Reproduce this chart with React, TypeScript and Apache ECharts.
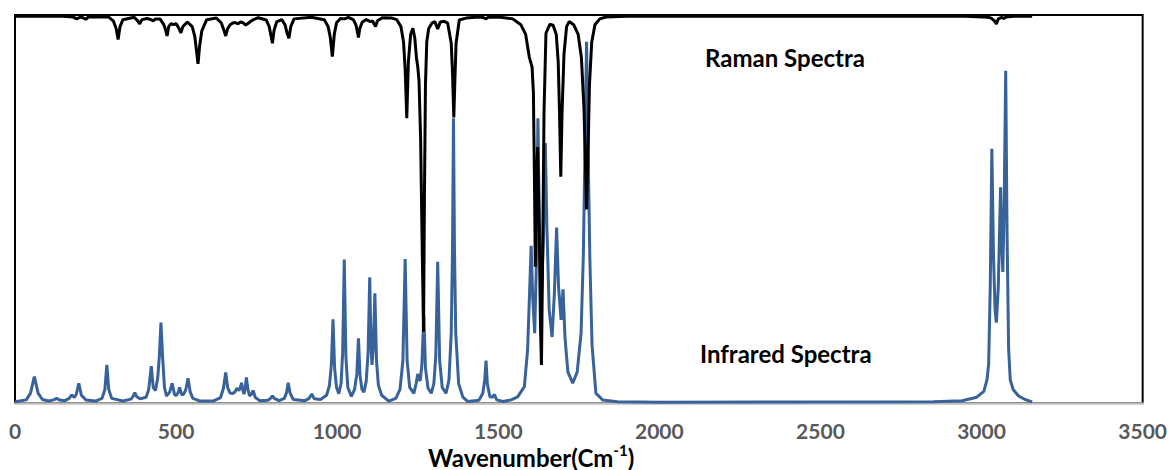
import React, { useEffect, useRef } from "react";
import * as echarts from "echarts";

// Infrared spectrum: [wavenumber, intensity %]
const irSpectrum: number[][] = [
  [0, 0.3], [35, 0.8], [48, 2.5], [55, 5], [60, 6.8], [65, 5], [72, 2.5], [85, 0.9], [105, 0.5],
  [120, 0.8], [129, 1.2], [138, 0.8], [155, 0.6], [168, 1.2], [176, 2.1], [184, 1.4], [190, 2.2], [198, 5.1], [206, 2], [220, 0.8], [250, 0.5],
  [270, 1.2], [279, 3.5], [285, 9.8], [291, 3.5], [300, 1.2], [335, 0.5], [360, 1], [367, 1.8], [372, 2.7], [378, 1.6], [388, 1.1], [398, 1.3],
  [407, 1.5], [415, 3.5], [423, 9.5], [429, 4], [436, 3.2], [443, 6.5], [448, 12], [453, 20.7], [458, 12], [464, 4], [470, 1.8],
  [480, 2.8], [488, 5.1], [495, 2.2], [500, 1.9], [506, 2.6], [511, 4], [517, 2.2], [523, 2.2], [530, 3.4], [537, 6.4], [544, 2.8], [552, 1.2],
  [575, 0.5], [615, 0.5], [638, 1.4], [647, 3.8], [654, 7.9], [660, 4], [667, 2.6], [674, 2.4], [682, 2.8], [689, 3.8], [695, 3.2], [699, 3.8],
  [703, 5.2], [708, 3], [711, 2.3], [714, 3.5], [718, 6.6], [723, 3.5], [728, 1.8], [733, 2.2], [739, 3.2], [746, 1.4], [760, 0.6],
  [785, 0.7], [793, 1.2], [799, 1.8], [806, 1.1], [820, 0.6], [836, 1.2], [843, 2.7], [848, 5.2], [854, 2.5], [864, 0.9], [900, 0.6],
  [913, 1.2], [921, 2.3], [929, 1.1], [948, 0.9], [967, 2], [976, 4.5], [982, 10], [987, 21.6], [992, 9], [998, 4], [1005, 2.4],
  [1012, 5], [1017, 13], [1022, 37], [1027, 12], [1033, 4], [1044, 1.7], [1054, 3.5], [1061, 7.5], [1066, 16.7], [1071, 7], [1077, 3.5],
  [1083, 2.8], [1090, 5.5], [1096, 13], [1101, 32.4], [1105, 15], [1108, 9.8], [1112, 14], [1117, 28.3], [1122, 11], [1128, 4.5],
  [1138, 2], [1160, 0.5], [1182, 1.2], [1195, 3.5], [1204, 11], [1211, 37.1], [1217, 11], [1225, 4], [1238, 2.5], [1245, 5], [1250, 7.5],
  [1255, 6], [1258, 5.8], [1263, 10], [1269, 22.7], [1274, 9], [1282, 3.8], [1292, 2.5], [1300, 5], [1306, 12], [1312, 36.4], [1318, 11],
  [1326, 4], [1338, 2.5], [1347, 6], [1354, 18], [1358, 40], [1361, 73.4], [1364, 40], [1368, 18], [1377, 5], [1390, 1.5], [1405, 0.4],
  [1440, 0.7], [1452, 2.5], [1458, 6], [1462, 10.9], [1466, 5], [1474, 1.6], [1482, 1.5], [1488, 2.2], [1495, 0.8], [1515, 0.4],
  [1540, 0.8], [1560, 1.6], [1581, 4.2], [1591, 13.7], [1597, 28], [1602, 40.5], [1607, 27], [1613, 18], [1618, 35], [1623, 73.4],
  [1628, 45], [1634, 28], [1640, 42], [1646, 67], [1651, 45], [1658, 24], [1667, 17], [1674, 28], [1681, 45.2], [1687, 30], [1695, 21.4],
  [1701, 29.3], [1707, 17], [1716, 8], [1731, 5.1], [1745, 8], [1757, 18], [1764, 38], [1769, 65], [1774, 93.1], [1779, 65], [1784, 38],
  [1791, 15], [1803, 2.5], [1824, 0.8], [1870, 0.3], [2000, 0.2], [2850, 0.3], [2940, 0.6], [2985, 1.5], [3007, 3], [3017, 6], [3022, 10], [3027, 30],
  [3032, 65.5], [3037, 38], [3042, 24], [3046, 20.7], [3052, 30], [3059, 55.6], [3063, 40], [3066, 33.8], [3070, 50], [3075, 85.6],
  [3079, 45], [3084, 14], [3089, 6], [3098, 3.5], [3115, 1.8], [3135, 0.9], [3157, 0.3],
];

// Raman spectrum (drawn hanging from the top): [wavenumber, intensity %]
const ramanSpectrum: number[][] = [
  [0, 0.3], [150, 0.3], [180, 0.5], [191, 1], [205, 0.5], [213, 0.8], [220, 1.1], [228, 0.5], [290, 0.5], [305, 1.5], [314, 3.5],
  [320, 6.3], [326, 3], [335, 1.2], [370, 0.6], [381, 1.5], [387, 2.3], [394, 1.2], [410, 0.9], [422, 1.2], [429, 1.5], [436, 1],
  [450, 1], [462, 2.5], [468, 4], [472, 5.4], [477, 3], [484, 2.2], [492, 2.5], [500, 2.2], [509, 3.5], [515, 4.6], [521, 3], [535, 1.8],
  [550, 3], [558, 5.5], [563, 9], [568, 12.6], [573, 8], [580, 4], [595, 1.2], [625, 0.8], [640, 2], [648, 3.8], [654, 5.4], [660, 3.5],
  [668, 2.5], [677, 2], [685, 2], [692, 2.3], [700, 1.8], [708, 2], [716, 2.6], [723, 2.2], [732, 1.6], [740, 1.2], [755, 0.7],
  [780, 1.3], [789, 3], [795, 5.5], [799, 7.3], [804, 4], [812, 1.8], [828, 1.2], [838, 2.5], [844, 4.5], [850, 6], [856, 3], [866, 1],
  [920, 0.6], [960, 1.2], [972, 3], [979, 6], [985, 10.7], [991, 5], [998, 2], [1010, 0.9], [1023, 1], [1035, 0.6], [1050, 1.2],
  [1058, 2.5], [1062, 4], [1066, 5.8], [1070, 3.5], [1078, 1.8], [1090, 1.2], [1103, 1.7], [1110, 1.5], [1114, 2.2], [1119, 3],
  [1125, 1.5], [1140, 0.7], [1170, 0.8], [1185, 1.2], [1198, 3], [1206, 7], [1211, 14], [1216, 26.6], [1221, 12], [1228, 5],
  [1235, 3.4], [1241, 6], [1246, 11], [1250, 13.3], [1254, 17], [1259, 32], [1263, 55], [1268, 81.6], [1271, 45], [1274, 18],
  [1278, 7], [1284, 3.5], [1295, 2], [1303, 1.7], [1312, 3.6], [1320, 1.8], [1332, 1.6], [1343, 2.1], [1354, 7.3], [1358, 15],
  [1362, 26.4], [1366, 15], [1369, 7.3], [1379, 1.3], [1400, 0.8], [1440, 0.5], [1455, 0.7], [1462, 1], [1469, 0.6], [1500, 0.5],
  [1545, 1], [1570, 2.5], [1585, 5], [1596, 10.7], [1605, 13.5], [1609, 20], [1612, 40], [1615, 64.9], [1618, 48], [1622, 34],
  [1627, 55], [1631, 80], [1634, 90.2], [1638, 60], [1642, 25], [1648, 4.7], [1660, 2.4], [1670, 2.6], [1680, 5], [1686, 12],
  [1690, 25], [1694, 41.7], [1698, 25], [1704, 10], [1712, 3], [1720, 1.7], [1734, 2.5], [1748, 5], [1758, 11], [1766, 24],
  [1771, 40], [1774, 50.1], [1778, 38], [1783, 18], [1790, 7], [1800, 2.5], [1815, 1], [1835, 0.5], [1900, 0.3], [2950, 0.3],
  [3020, 0.6], [3030, 0.8], [3040, 1.5], [3046, 2.3], [3052, 1], [3062, 0.6], [3069, 0.9], [3076, 0.5], [3100, 0.3], [3157, 0.3],
];

const xTickValues = [0, 500, 1000, 1500, 2000, 2500, 3000, 3500];
const ramanLabel = "Raman Spectra";
const irLabel = "Infrared Spectra";

export default function App() {
  const ref = useRef<HTMLDivElement>(null);
  useEffect(() => {
    if (!ref.current) return;
    const chart = echarts.init(ref.current, undefined, { renderer: "svg" });
    chart.setOption({
      animation: false,
      backgroundColor: "#ffffff",
      grid: {
        left: 15,
        right: 26,
        top: 15,
        bottom: 67,
        show: true,
        borderColor: "#000000",
        borderWidth: 2,
        backgroundColor: "transparent",
      },
      xAxis: {
        type: "value",
        min: xTickValues[0],
        max: xTickValues[xTickValues.length - 1],
        interval: xTickValues[1] - xTickValues[0],
        axisLine: { show: true, lineStyle: { color: "#bfbfbf", width: 2.5 } },
        axisTick: { show: false },
        splitLine: { show: false },
        axisLabel: {
          color: "#595959",
          fontWeight: "bold",
          fontSize: 21,
          fontFamily: "Lato",
          margin: 17,
          formatter: (v: number) => String(v),
        },
      },
      yAxis: [
        { type: "value", min: 0, max: 100, show: false, splitLine: { show: false } },
        { type: "value", min: 0, max: 100, inverse: true, show: false, splitLine: { show: false } },
      ],
      series: [
        {
          type: "line",
          name: irLabel,
          yAxisIndex: 0,
          data: irSpectrum,
          showSymbol: false,
          z: 2,
          lineStyle: { color: "#38629a", width: 3 },
        },
        {
          type: "line",
          name: ramanLabel,
          yAxisIndex: 1,
          data: ramanSpectrum,
          showSymbol: false,
          z: 3,
          lineStyle: { color: "#000000", width: 3 },
        },
      ],
      graphic: [
        {
          type: "text",
          left: 705,
          top: 45,
          style: { text: ramanLabel, fontFamily: "Lato", fontWeight: "bold", fontSize: 24, fill: "#000" },
        },
        {
          type: "text",
          left: 700,
          top: 341,
          style: { text: irLabel, fontFamily: "Lato", fontWeight: "bold", fontSize: 24, fill: "#000" },
        },
        {
          type: "text",
          left: 428,
          top: 442,
          style: {
            text: "{a|Wavenumber(Cm}{b|-1}{a|)}",
            rich: {
              a: { fontFamily: "Lato", fontWeight: "bold", fontSize: 24, fill: "#000", lineHeight: 27, verticalAlign: "bottom" },
              b: { fontFamily: "Lato", fontWeight: "bold", fontSize: 15, fill: "#000", lineHeight: 27, verticalAlign: "top", padding: [0, 0, 11, 0] },
            },
          },
        },
      ],
    });
    return () => chart.dispose();
  }, []);
  return <div ref={ref} style={{ position: "fixed", left: 0, top: 0, width: 1170, height: 470 }} />;
}
